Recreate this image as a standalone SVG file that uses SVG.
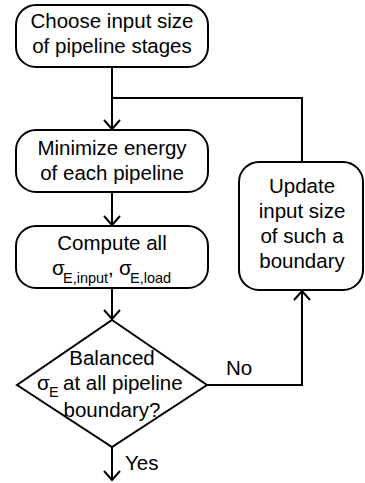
<svg xmlns="http://www.w3.org/2000/svg" width="365" height="483" viewBox="0 0 365 483">
<style>
.box{fill:#fff;stroke:#000;stroke-width:2}
.t{font-family:"Liberation Sans",Arial,sans-serif;font-size:20.5px;fill:#000}
.c{text-anchor:middle}
.s{font-size:14.5px}
.ln{fill:none;stroke:#000;stroke-width:2}
</style>
<defs>
<marker id="ah" markerUnits="userSpaceOnUse" markerWidth="20" markerHeight="20" refX="10" refY="10" orient="auto" viewBox="0 0 20 20">
<path d="M1,2 L10,10 L1,18" fill="none" stroke="#000" stroke-width="2"/>
</marker>
</defs>
<rect width="365" height="483" fill="#fff"/>
<g id="connectors">
<path class="ln" d="M112,67 V129" marker-end="url(#ah)"/>
<path class="ln" d="M302,162 V98 H112"/>
<path class="ln" d="M112,192 V225" marker-end="url(#ah)"/>
<path class="ln" d="M112,288 V319" marker-end="url(#ah)"/>
<path class="ln" d="M207,385 H302 V291" marker-end="url(#ah)"/>
<path class="ln" d="M112,447 V480" marker-end="url(#ah)"/>
<text class="t" x="226" y="375">No</text>
<text class="t" x="125" y="470">Yes</text>
</g>
<g id="choose">
<rect class="box" x="16" y="5" width="192" height="62" rx="20"/>
<text class="t c" x="112" y="28">Choose input size</text>
<text class="t c" x="112" y="53">of pipeline stages</text>
</g>
<g id="minimize">
<rect class="box" x="16" y="130" width="192" height="62" rx="20"/>
<text class="t c" x="112" y="155">Minimize energy</text>
<text class="t c" x="112" y="180">of each pipeline</text>
</g>
<g id="compute">
<rect class="box" x="16" y="226" width="192" height="62" rx="20"/>
<text class="t c" x="112" y="250">Compute all</text>
<text class="t" x="52" y="275">σ</text>
<text class="t s" x="63" y="283">E,input</text>
<text class="t" x="108" y="275">,</text>
<text class="t" x="119" y="275">σ</text>
<text class="t s" x="130" y="283">E,load</text>
</g>
<g id="update">
<rect class="box" x="239" y="162" width="124" height="128" rx="20"/>
<text class="t c" x="302" y="193">Update</text>
<text class="t c" x="302" y="218">input size</text>
<text class="t c" x="302" y="243">of such a</text>
<text class="t c" x="302" y="268">boundary</text>
</g>
<g id="balanced">
<polygon class="box" points="112,320 207,385 112,447 17,385"/>
<text class="t c" x="112" y="365">Balanced</text>
<text class="t" x="37" y="390">σ</text>
<text class="t s" x="49" y="397">E</text>
<text class="t" x="63" y="390">at all pipeline</text>
<text class="t c" x="112" y="417">boundary?</text>
</g>
</svg>
